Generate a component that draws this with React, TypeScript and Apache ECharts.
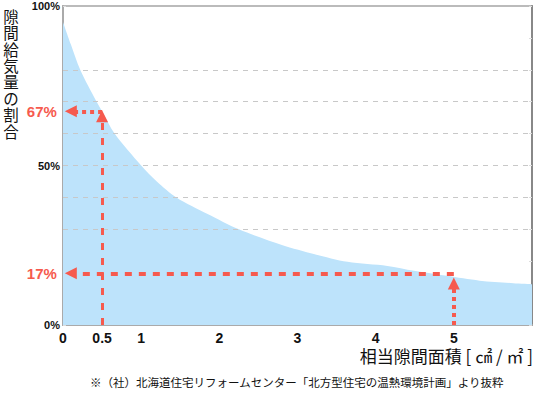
import React, { useEffect, useRef } from "react";
import * as echarts from "echarts";

// Curve: equivalent leakage area [cm2/m2] vs share of infiltration [%]
const areaX = [0, 0.1, 0.22, 0.43, 0.5, 0.66, 1.0, 1.2, 1.45, 1.85, 2.25, 2.8, 3.22, 3.64, 4.15, 4.49, 4.91, 5.33, 5.76, 6];
const shareY = [95, 88, 80, 70, 67, 60, 50, 45, 40, 34.8, 30, 25.1, 22.2, 19.8, 18.5, 17, 15.4, 13.9, 13.1, 12.8];

const xTickLabels = [0, 0.5, 1, 2, 3, 4, 5];
const yTickLabels = [0, 50, 100];
const gridLevels = [30, 40, 50, 60, 70, 80];

// Annotations
const noteA = { x: 0.5, y: 67, label: "67%" };
const noteB = { x: 5, y: 16.2, label: "17%" };

const yTitle = "隙間給気量の割合";
const xTitle = "相当隙間面積 [ ㎠ / ㎡ ]";
const footnote = "※（社）北海道住宅リフォームセンター「北方型住宅の温熱環境計画」より抜粋";

const RED = "#f65a4e";

export default function App() {
  const ref = useRef<HTMLDivElement>(null);
  useEffect(() => {
    if (!ref.current) return;
    const chart = echarts.init(ref.current, null, { renderer: "svg" });
    const labelFont = '"Liberation Sans", Arial, sans-serif';
    const redLabel = (text: string) => ({
      show: true,
      position: "end",
      distance: 14,
      formatter: text,
      color: RED,
      fontWeight: "bold",
      fontSize: 15,
      fontFamily: labelFont,
    });
    chart.setOption({
      animation: false,
      grid: { left: 63, right: 1, top: 6, bottom: 69, show: true, borderColor: "#bbb", borderWidth: 2 },
      xAxis: {
        type: "value",
        min: 0,
        max: 6,
        interval: 0.5,
        axisLine: { show: true, lineStyle: { color: "#aaa", width: 2 } },
        axisTick: { show: false },
        splitLine: { show: false },
        axisLabel: {
          margin: 6,
          color: "#111",
          fontWeight: "bold",
          fontSize: 14,
          fontFamily: labelFont,
          formatter: (v: number) => (xTickLabels.includes(v) ? String(v) : ""),
        },
      },
      yAxis: [
        {
          type: "value",
          min: 0,
          max: 100,
          interval: 10,
          axisLine: { show: true, lineStyle: { color: "#aaa", width: 2 } },
          axisTick: { show: true, inside: true, length: 3, lineStyle: { color: "#ddd" } },
          splitLine: { show: false },
          axisLabel: {
            margin: 3,
            color: "#111",
            fontWeight: "bold",
            fontSize: 11,
            fontFamily: labelFont,
            formatter: (v: number) => (yTickLabels.includes(v) ? v + "%" : ""),
          },
        },
        {
          type: "value",
          position: "right",
          min: 0,
          max: 100,
          interval: 10,
          axisLine: { show: true, lineStyle: { color: "#888", width: 2 } },
          axisTick: { show: true, inside: true, length: 3, lineStyle: { color: "#ddd" } },
          splitLine: { show: false },
          axisLabel: { show: false },
        },
      ],
      series: [
        {
          type: "line",
          data: areaX.map((x, i) => [x, shareY[i]]),
          smooth: 0.3,
          showSymbol: false,
          symbol: "none",
          lineStyle: { width: 0 },
          areaStyle: { color: "#bde3fb", opacity: 1 },
          silent: true,
          markLine: {
            silent: true,
            symbol: ["none", "none"],
            label: { show: false },
            data: [
              ...gridLevels.map((g) => ({
                yAxis: g,
                lineStyle: { color: "#c8c8c8", type: [5, 5], width: 1 },
              })),
              [
                { coord: [noteA.x, 0], lineStyle: { color: RED, type: [7, 8], width: 3 } },
                { coord: [noteA.x, 65.4], symbol: "triangle", symbolSize: 12 },
              ],
              [
                {
                  coord: [noteA.x, noteA.y],
                  lineStyle: { color: RED, type: [4, 4], width: 4 },
                  label: redLabel(noteA.label),
                },
                { coord: [0.1, noteA.y], symbol: "triangle", symbolSize: 12 },
              ],
              [
                { coord: [noteB.x, 0], lineStyle: { color: RED, type: [4, 4], width: 4 } },
                { coord: [noteB.x, 13], symbol: "triangle", symbolSize: 12 },
              ],
              [
                {
                  coord: [noteB.x, noteB.y],
                  lineStyle: { color: RED, type: [7, 7], width: 4 },
                  label: redLabel(noteB.label),
                },
                { coord: [0.1, noteB.y], symbol: "triangle", symbolSize: 12 },
              ],
            ],
          },
        },
      ],
      graphic: [
        ...yTitle.split("").map((ch, i) => ({
          type: "text",
          x: 11,
          y: 8 + i * 16.4,
          style: {
            text: ch,
            font: '15.5px "Noto Sans CJK JP"',
            fill: "#111",
            align: "center",
            verticalAlign: "top",
          },
        })),
        {
          type: "text",
          right: 2,
          top: 347,
          style: {
            text: xTitle,
            font: '17px "Noto Sans CJK JP"',
            fill: "#111",
          },
        },
        {
          type: "text",
          left: 90,
          top: 376,
          style: {
            text: footnote,
            font: '11.5px "Noto Sans CJK JP"',
            fill: "#111",
          },
        },
      ],
    });
    return () => chart.dispose();
  }, []);
  return (
    <div
      ref={ref}
      style={{ position: "absolute", left: 0, top: 0, width: 535, height: 394 }}
    />
  );
}
